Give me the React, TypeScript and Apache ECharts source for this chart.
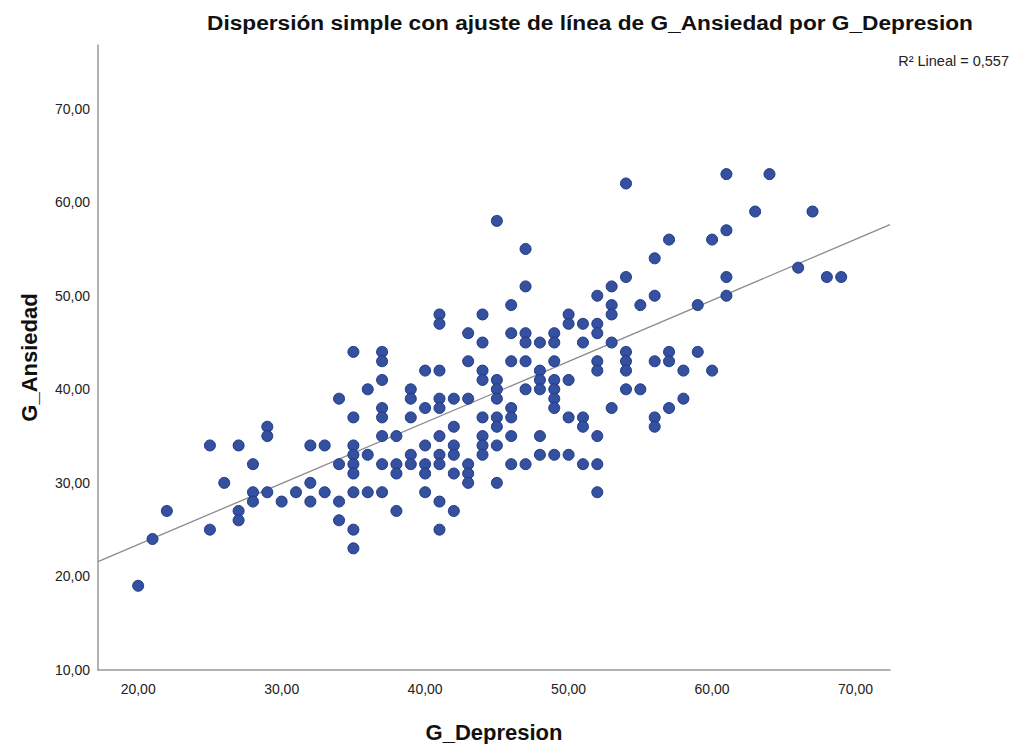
import React, { useEffect, useRef } from "react";
import * as echarts from "echarts";

const titleText = "Dispersión simple con ajuste de línea de G_Ansiedad por G_Depresion";
const xAxisName = "G_Depresion";
const yAxisName = "G_Ansiedad";
const r2Label = "R² Lineal = 0,557";

// G_Depresion values (columns) and the G_Ansiedad values observed at each
const depresionValues = [
  20, 21, 22, 25, 26, 27, 28, 29, 30, 31, 32, 33, 34, 35, 36, 37, 38, 39, 40, 41,
  42, 43, 44, 45, 46, 47, 48, 49, 50, 51, 52, 53, 54, 55, 56, 57, 58, 59, 60, 61,
  63, 64, 66, 67, 68, 69,
];
const ansiedadByDepresion = [
  [19], [24], [27], [34, 25], [30], [34, 27, 26], [32, 29, 28], [36, 35, 29], [28], [29],
  [34, 30, 28], [34, 29], [39, 32, 28, 26], [44, 37, 34, 33, 32, 31, 29, 25, 23], [40, 33, 29],
  [44, 43, 41, 38, 37, 35, 32, 29], [35, 32, 31, 27], [40, 39, 37, 33, 32], [42, 38, 34, 32, 31, 29],
  [48, 47, 42, 39, 38, 35, 33, 32, 28, 25], [39, 36, 34, 33, 31, 27], [46, 43, 39, 32, 31, 30],
  [48, 45, 42, 41, 37, 35, 34, 33], [58, 41, 40, 39, 37, 36, 34, 30], [49, 46, 43, 38, 37, 35, 32],
  [55, 51, 46, 45, 43, 40, 32], [45, 42, 41, 40, 35, 33], [46, 45, 43, 41, 40, 39, 38, 33],
  [48, 47, 41, 37, 33], [47, 45, 37, 36, 32], [50, 47, 46, 43, 42, 35, 32, 29], [51, 49, 48, 45, 38],
  [62, 52, 44, 43, 42, 40], [49, 40], [54, 50, 43, 37, 36], [56, 44, 43, 38], [42, 39], [49, 44],
  [56, 42], [63, 57, 52, 50], [59], [63], [53], [59], [52], [52],
];

// Fitted line at the axis extremes
const fitX = [17.2, 72.4];
const fitY = [21.58, 57.6];

const xMin = 17.2;
const xMax = 72.4;
const yMin = 10;
const yMax = 76.8;

const fmt = (v: number) => (Math.abs(v % 10) < 1e-6 ? v.toFixed(2).replace(".", ",") : "");

export default function App() {
  const ref = useRef<HTMLDivElement>(null);
  useEffect(() => {
    document.body.style.margin = "0";
    if (!ref.current) return;
    const chart = echarts.init(ref.current, null, { renderer: "svg" });

    const points: number[][] = [];
    depresionValues.forEach((x, i) => {
      ansiedadByDepresion[i].forEach((y) => points.push([x, y]));
    });
    const fitLine = fitX.map((x, i) => [x, fitY[i]]);

    chart.setOption({
      animation: false,
      backgroundColor: "#ffffff",
      textStyle: { fontFamily: "Liberation Sans, Arial, sans-serif" },
      grid: {
        left: 98,
        right: 122,
        top: 45,
        bottom: 74,
        containLabel: false,
        outerBoundsMode: "none",
      },
      xAxis: {
        type: "value",
        min: xMin,
        max: xMax,
        minInterval: 10,
        maxInterval: 10,
        name: xAxisName,
        nameLocation: "middle",
        nameGap: 51,
        nameTextStyle: { fontSize: 22, fontWeight: "bold", color: "#111" },
        axisLine: { show: true, lineStyle: { color: "#999999", width: 1.5 } },
        axisTick: { show: false },
        splitLine: { show: false },
        axisLabel: {
          formatter: fmt,
          showMinLabel: false,
          showMaxLabel: false,
          fontSize: 14,
          color: "#222",
          margin: 12,
        },
      },
      yAxis: {
        type: "value",
        min: yMin,
        max: yMax,
        minInterval: 10,
        maxInterval: 10,
        name: yAxisName,
        nameLocation: "middle",
        nameGap: 58,
        nameRotate: 90,
        nameTextStyle: { fontSize: 22, fontWeight: "bold", color: "#111" },
        axisLine: { show: true, lineStyle: { color: "#999999", width: 1.5 } },
        axisTick: { show: false },
        splitLine: { show: false },
        axisLabel: {
          formatter: fmt,
          showMaxLabel: false,
          fontSize: 14,
          color: "#222",
          margin: 8,
        },
      },
      graphic: [
        {
          type: "text",
          x: 590,
          y: 12,
          scaleX: 1.08,
          style: {
            text: titleText,
            fontSize: 21,
            fontWeight: "bold",
            fontFamily: "Liberation Sans, Arial, sans-serif",
            fill: "#111",
            textAlign: "center",
            textVerticalAlign: "top",
          },
        },
        {
          type: "text",
          x: 1009,
          y: 53,
          style: {
            text: r2Label,
            fontSize: 14.5,
            fontFamily: "Liberation Sans, Arial, sans-serif",
            fill: "#222",
            textAlign: "right",
            textVerticalAlign: "top",
          },
        },
      ],
      series: [
        {
          type: "line",
          data: fitLine,
          symbol: "none",
          silent: true,
          lineStyle: { color: "#8c8c8c", width: 1.3 },
          z: 1,
        },
        {
          type: "scatter",
          data: points,
          symbolSize: 11,
          itemStyle: { color: "#34509f", borderColor: "#1f3a85", borderWidth: 1, opacity: 1 },
          z: 2,
        },
      ],
    });
    return () => chart.dispose();
  }, []);
  return <div ref={ref} style={{ width: 1012, height: 744 }} />;
}
